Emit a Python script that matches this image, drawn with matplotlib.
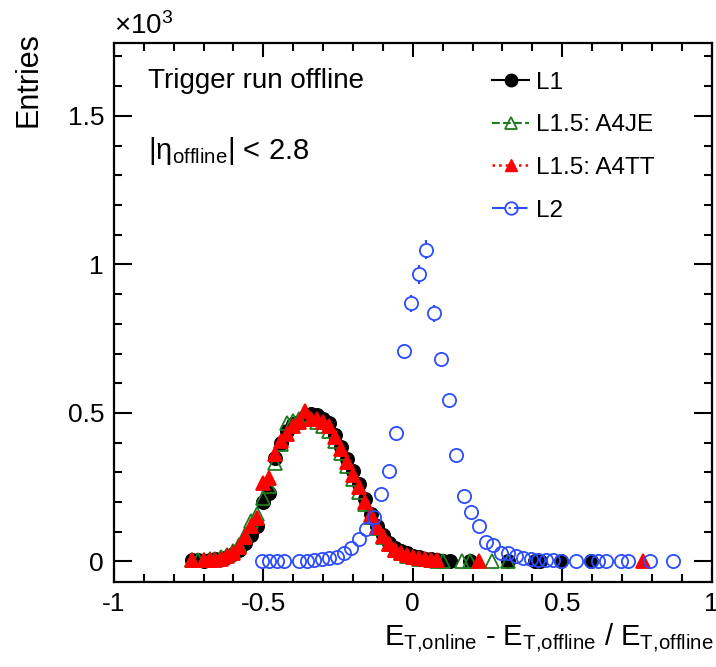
import numpy as np
import matplotlib
matplotlib.use("Agg")
import matplotlib.pyplot as plt
from matplotlib.lines import Line2D
from matplotlib.ticker import MultipleLocator, FuncFormatter

plt.rcParams['font.family'] = ['Liberation Sans', 'DejaVu Sans']
plt.rcParams['mathtext.default'] = 'regular'

# entries per bin
x_l1 = [-0.74, -0.72, -0.70, -0.68, -0.66, -0.64, -0.62, -0.60, -0.58, -0.56,
        -0.54, -0.52, -0.50, -0.48, -0.46, -0.44, -0.42, -0.40, -0.38, -0.36,
        -0.34, -0.32, -0.30, -0.28, -0.26, -0.24, -0.22, -0.20, -0.18, -0.16,
        -0.14, -0.12, -0.10, -0.08, -0.06, -0.04, -0.02, 0.00, 0.02, 0.04,
        0.06, 0.08, 0.10, 0.125, 0.19, 0.32, 0.41, 0.425, 0.495, 0.595]
y_l1 = [5, 4, 3, 5, 7, 10, 16, 25, 40, 62,
        88, 118, 200, 232, 350, 400, 440, 462, 470, 485,
        497, 492, 480, 465, 425, 385, 345, 305, 262, 212,
        160, 118, 90, 62, 45, 35, 27, 20, 14, 10,
        7, 4, 3, 2, 2, 2, 1, 1, 1, 1]

x_je = [-0.74, -0.72, -0.70, -0.68, -0.66, -0.64, -0.62, -0.60, -0.58, -0.56,
        -0.54, -0.52, -0.50, -0.48, -0.46, -0.44, -0.42, -0.40, -0.38, -0.36,
        -0.34, -0.32, -0.30, -0.28, -0.26, -0.24, -0.22, -0.20, -0.18, -0.16,
        -0.14, -0.12, -0.10, -0.08, -0.06, -0.04, -0.02, 0.00, 0.02, 0.04,
        0.06, 0.08, 0.10, 0.165, 0.19, 0.265, 0.32]
y_je = [6, 4, 5, 7, 9, 14, 22, 35, 55, 90,
        135, 160, 215, 255, 330, 395, 465, 472, 480, 485,
        478, 470, 455, 440, 405, 365, 320, 278, 235, 192,
        150, 112, 82, 58, 40, 28, 20, 14, 10, 7,
        5, 3, 2, 2, 2, 2, 2]

x_tt = [-0.74, -0.70, -0.68, -0.66, -0.64, -0.62, -0.60, -0.58, -0.56,
        -0.54, -0.52, -0.50, -0.48, -0.46, -0.44, -0.42, -0.40, -0.38, -0.36,
        -0.34, -0.32, -0.30, -0.28, -0.26, -0.24, -0.22, -0.20, -0.18, -0.16,
        -0.14, -0.12, -0.10, -0.08, -0.06, -0.04, -0.02, 0.00, 0.02, 0.04,
        0.06, 0.08, 0.22, 0.77]
y_tt = [5, 4, 6, 6, 10, 20, 30, 50, 81,
        121, 148, 263, 280, 363, 407, 430, 455, 470, 508,
        480, 478, 470, 455, 420, 380, 335, 290, 250, 200,
        155, 115, 85, 58, 40, 30, 22, 15, 11, 8,
        5, 4, 3, 1]

x_l2 = [-0.505, -0.48, -0.455, -0.43, -0.38, -0.355, -0.33, -0.305, -0.28, -0.255,
        -0.23, -0.205, -0.18, -0.155, -0.13, -0.105, -0.08, -0.055, -0.03, -0.005,
        0.02, 0.045, 0.07, 0.095, 0.12, 0.145, 0.17, 0.195, 0.22, 0.245,
        0.27, 0.295, 0.32, 0.345, 0.37, 0.395, 0.42, 0.445, 0.47, 0.495,
        0.545, 0.595, 0.62, 0.645, 0.695, 0.72, 0.795, 0.87]
y_l2 = [2, 2, 2, 2, 3, 3, 6, 9, 12, 14,
        28, 45, 75, 110, 150, 228, 303, 434, 707, 869,
        966, 1050, 835, 680, 542, 360, 222, 165, 121, 67,
        54, 30, 27, 20, 12, 8, 6, 5, 4, 3,
        2, 2, 2, 2, 1, 1, 1, 1]

fig = plt.figure(figsize=(7.16, 6.67), dpi=100)
ax = fig.add_axes([0.159, 0.127, 0.835, 0.8085])

MS = 9.5
GAP = 0.021  # marker radius in units of 10^3 entries


def draw(xs, ys, color, marker, filled, z):
    xs = np.array(xs)
    ys = np.array(ys) / 1000.0
    err = np.sqrt(ys * 1000.0) / 1000.0
    big = err > GAP
    # error bars drawn only outside the marker, like ROOT does
    ax.vlines(xs[big], ys[big] + GAP, ys[big] + err[big], color=color, lw=1.6, zorder=z)
    ax.vlines(xs[big], ys[big] - err[big], ys[big] - GAP, color=color, lw=1.6, zorder=z)
    ax.plot(xs, ys, ls='none', marker=marker, ms=MS, color=color,
            mfc=color if filled else 'none', mec=color, mew=1.3, zorder=z)


draw(x_l1, y_l1, 'black', 'o', True, 3)
draw(x_je, y_je, '#1e7d1e', '^', False, 4)
draw(x_tt, y_tt, '#ff0000', '^', True, 5)
draw(x_l2, y_l2, '#2b4cff', 'o', False, 6)

ax.set_xlim(-1, 1.0)
ax.set_ylim(-0.07, 1.745)

ax.xaxis.set_major_locator(MultipleLocator(0.5))
ax.xaxis.set_minor_locator(MultipleLocator(0.1))
ax.yaxis.set_major_locator(MultipleLocator(0.5))
ax.yaxis.set_minor_locator(MultipleLocator(0.1))
fmt = FuncFormatter(lambda v, p: '%g' % round(v, 3))
ax.xaxis.set_major_formatter(fmt)
ax.yaxis.set_major_formatter(fmt)

ax.tick_params(which='both', direction='in', top=True, right=True,
               labelsize=19, width=1.5, color='black')
ax.tick_params(axis='x', which='major', length=10, pad=7)
ax.tick_params(axis='y', which='major', length=13, pad=7)
ax.tick_params(which='minor', length=6)
for s in ax.spines.values():
    s.set_linewidth(1.6)

ax.text(0.0, 1.006, r'$\times10^{3}$', transform=ax.transAxes, fontsize=20,
        ha='left', va='bottom')
fig.text(0.04, 0.952, 'Entries', rotation=90, fontsize=22, ha='center', va='top')
fig.text(0.997, 0.033,
         r'E$_{T{,}online}$ - E$_{T{,}offline}$ / E$_{T{,}offline}$',
         fontsize=21, ha='right', va='baseline')

ax.text(0.057, 0.93, 'Trigger run offline', transform=ax.transAxes,
        fontsize=20, ha='left', va='center')
ax.text(0.057, 0.80, r'|$\eta_{offline}$| < 2.8', transform=ax.transAxes,
        fontsize=21, ha='left', va='center')

handles = [
    Line2D([], [], color='black', ls='-', lw=1.5, marker='o', ms=9),
    Line2D([], [], color='#1e7d1e', ls='--', lw=1.5, marker='^', ms=9,
           mfc='none', mew=1.3),
    Line2D([], [], color='#ff0000', ls=':', lw=1.8, marker='^', ms=9),
    Line2D([], [], color='#2b4cff', ls='-.', lw=1.5, marker='o', ms=9,
           mfc='none', mew=1.3),
]
labels = ['L1', 'L1.5: A4JE', 'L1.5: A4TT', 'L2']
ax.legend(handles, labels, loc='upper left', bbox_to_anchor=(0.633, 0.947),
          frameon=False, fontsize=17.5, handlelength=1.5, handletextpad=0.3,
          labelspacing=0.85, borderpad=0, borderaxespad=0)

fig.savefig('out.png', dpi=100)
